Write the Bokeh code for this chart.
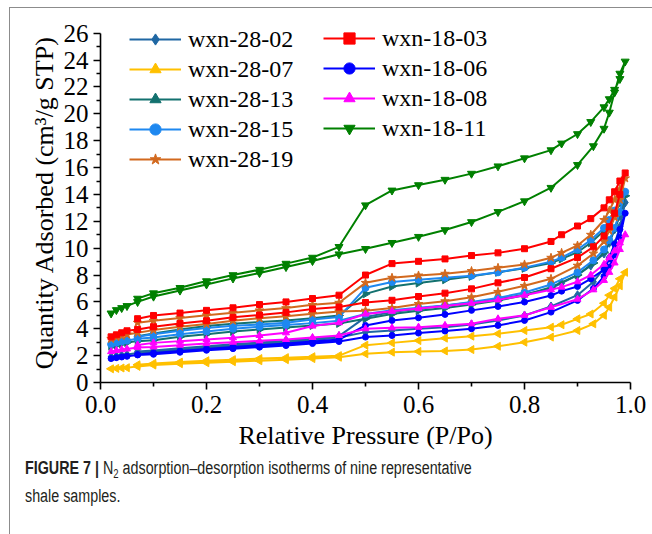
import math
from bokeh.plotting import figure
from bokeh.layouts import column
from bokeh.models import Range1d, FixedTicker, PrintfTickFormatter, Legend, LegendItem, Div
from bokeh.embed import file_html
from bokeh.resources import INLINE

# ---------------- data ----------------
p_ads = [0.02, 0.03, 0.04, 0.05, 0.07, 0.10, 0.15, 0.20, 0.25, 0.30, 0.35, 0.40, 0.45, 0.50,
         0.55, 0.60, 0.65, 0.70, 0.75, 0.80, 0.85, 0.90, 0.93, 0.95, 0.96, 0.97, 0.98, 0.99]
p_des = [0.98, 0.97, 0.96, 0.95, 0.925, 0.90, 0.87, 0.85, 0.80, 0.75, 0.70, 0.65, 0.60, 0.55,
         0.50, 0.45, 0.40, 0.35, 0.30, 0.25, 0.20, 0.15, 0.10, 0.07]

names = ["wxn-28-02", "wxn-28-07", "wxn-28-13", "wxn-28-15", "wxn-28-19",
         "wxn-18-03", "wxn-18-06", "wxn-18-08", "wxn-18-11"]

ads_28_02 = [1.90, 1.97, 2.02, 2.08, 2.20, 2.25, 2.40, 2.55, 2.70, 2.85, 2.98, 3.15, 3.35, 3.75,
             3.87, 4.00, 4.12, 4.32, 4.62, 4.99, 5.66, 6.50, 7.50, 8.50, 9.30, 10.30, 11.60, 13.40]
des_28_02 = [12.4, 11.4, 10.4, 9.6, 8.7, 8.0, 7.4, 7.0, 6.55, 6.2, 5.95, 5.74, 5.49, 5.24,
             4.87, 3.45, 3.25, 3.10, 2.98, 2.85, 2.70, 2.55, 2.38, 2.30]

ads_28_07 = [1.02, 1.05, 1.08, 1.10, 1.20, 1.30, 1.40, 1.47, 1.55, 1.62, 1.70, 1.78, 1.88, 2.14,
             2.26, 2.31, 2.35, 2.45, 2.70, 3.00, 3.38, 3.87, 4.37, 5.00, 5.60, 6.36, 7.20, 8.20]
des_28_07 = [7.72, 7.00, 6.50, 5.90, 5.10, 4.74, 4.30, 4.12, 3.87, 3.63, 3.45, 3.30, 3.12, 2.95,
             2.78, 2.00, 1.92, 1.85, 1.78, 1.70, 1.62, 1.52, 1.42, 1.32]

ads_28_13 = [2.70, 2.80, 2.90, 2.98, 3.08, 3.15, 3.40, 3.60, 3.80, 3.95, 4.10, 4.25, 4.40, 4.75,
             5.10, 5.35, 5.55, 5.80, 6.10, 6.50, 7.10, 8.00, 8.90, 9.70, 10.50, 11.40, 12.60, 13.90]
des_28_13 = [13.3, 12.6, 12.0, 11.3, 10.4, 9.7, 9.2, 8.9, 8.5, 8.2, 7.9, 7.65, 7.40, 7.15,
             6.60, 4.99, 4.79, 4.62, 4.50, 4.37, 4.20, 3.95, 3.65, 3.45]

ads_28_15 = [2.85, 2.95, 3.05, 3.12, 3.25, 3.35, 3.60, 3.80, 4.00, 4.15, 4.28, 4.42, 4.60, 5.10,
             5.37, 5.56, 5.74, 6.00, 6.30, 6.70, 7.30, 8.20, 9.10, 9.90, 10.60, 11.50, 12.70, 14.20]
des_28_15 = [13.5, 12.8, 12.1, 11.5, 10.6, 9.9, 9.3, 9.0, 8.55, 8.20, 7.95, 7.80, 7.65, 7.48,
             7.05, 4.87, 4.69, 4.45, 4.32, 4.22, 4.05, 3.85, 3.60, 3.40]

ads_28_19 = [3.25, 3.38, 3.48, 3.58, 3.70, 3.90, 4.15, 4.35, 4.60, 4.78, 4.94, 5.12, 5.29, 5.35,
             5.55, 5.85, 6.05, 6.35, 6.75, 7.20, 7.72, 8.70, 9.60, 10.50, 11.30, 12.30, 13.60, 15.20]
des_28_19 = [14.4, 13.6, 12.8, 12.1, 11.0, 10.2, 9.65, 9.29, 8.79, 8.54, 8.30, 8.10, 7.97, 7.80,
             7.42, 5.94, 5.78, 5.54, 5.37, 5.19, 5.00, 4.80, 4.60, 4.45]

ads_18_03 = [3.40, 3.55, 3.70, 3.85, 3.95, 4.15, 4.40, 4.60, 4.85, 5.02, 5.22, 5.48, 5.62, 5.95,
             6.12, 6.40, 6.65, 6.97, 7.42, 7.82, 8.47, 9.30, 10.10, 10.90, 11.60, 12.60, 14.00, 15.60]
des_18_03 = [15.0, 14.2, 13.6, 13.0, 12.2, 11.65, 11.0, 10.5, 9.96, 9.65, 9.45, 9.20, 9.02, 8.85,
             8.00, 6.50, 6.25, 6.00, 5.80, 5.56, 5.37, 5.17, 4.99, 4.75]

ads_18_06 = [1.78, 1.85, 1.90, 1.95, 2.05, 2.10, 2.25, 2.40, 2.52, 2.63, 2.75, 2.90, 3.05, 3.38,
             3.50, 3.68, 3.83, 4.00, 4.25, 4.62, 5.24, 6.11, 7.00, 7.90, 8.60, 9.50, 10.80, 12.60]
des_18_06 = [11.4, 10.3, 9.2, 8.4, 7.72, 7.15, 6.80, 6.48, 5.99, 5.66, 5.37, 5.07, 4.82, 4.62,
             4.25, 3.20, 3.05, 2.90, 2.78, 2.65, 2.50, 2.35, 2.20, 2.08]

ads_18_08 = [2.30, 2.38, 2.45, 2.50, 2.60, 2.65, 2.78, 2.90, 3.00, 3.10, 3.20, 3.35, 3.50, 4.00,
             4.07, 4.12, 4.25, 4.37, 4.74, 5.00, 5.60, 6.20, 6.90, 7.60, 8.20, 8.90, 9.90, 11.00]
des_18_08 = [10.4, 9.8, 9.3, 8.8, 8.0, 7.5, 7.1, 6.9, 6.5, 6.15, 5.90, 5.70, 5.50, 5.30,
             5.10, 4.45, 4.20, 3.70, 3.50, 3.33, 3.20, 3.08, 2.95, 2.80]

ads_18_11 = [5.15, 5.40, 5.55, 5.70, 6.00, 6.40, 6.85, 7.30, 7.75, 8.15, 8.60, 9.05, 9.55, 9.95,
             10.40, 10.85, 11.35, 11.95, 12.70, 13.50, 14.50, 16.20, 17.60, 18.90, 20.10, 21.60, 23.00, 23.90]
des_18_11 = [22.6, 21.8, 21.1, 20.5, 19.4, 18.5, 17.8, 17.3, 16.7, 16.1, 15.55, 15.1, 14.7, 14.3,
             13.2, 10.1, 9.3, 8.85, 8.4, 8.0, 7.55, 7.05, 6.65, 6.25]

x_ticks = [0.0, 0.2, 0.4, 0.6, 0.8, 1.0]
x_minor = [0.1, 0.3, 0.5, 0.7, 0.9]
y_ticks = [0, 2, 4, 6, 8, 10, 12, 14, 16, 18, 20, 22, 24, 26]
y_minor = [1, 3, 5, 7, 9, 11, 13, 15, 17, 19, 21, 23, 25]

x_title = "Relative Pressure (P/Po)"
y_title = "Quantity Adsorbed (cm³/g STP)"
caption_html = (
    "<div style=\"transform: scaleX(0.795); transform-origin: 0 0; white-space: nowrap;"
    " position: relative; top: -4px;\">"
    "<b>FIGURE 7 |</b> N<span style=\"font-size:12px; position:relative; top:4px;\">2</span> "
    "adsorption–desorption isotherms of nine representative<br>shale samples.</div>"
)

series_values = [
    (ads_28_02, des_28_02), (ads_28_07, des_28_07), (ads_28_13, des_28_13),
    (ads_28_15, des_28_15), (ads_28_19, des_28_19), (ads_18_03, des_18_03),
    (ads_18_06, des_18_06), (ads_18_08, des_18_08), (ads_18_11, des_18_11),
]

# ---------------- styles ----------------
styles = [
    dict(color="#1f67a3", marker="diamond", size=9, angle=0),
    dict(color="#ffc000", marker="triangle", size=8, angle=90),
    dict(color="#13716f", marker="triangle", size=8, angle=-90),
    dict(color="#1e88f0", marker="circle", size=7, angle=0),
    dict(color="#d2691e", marker="star", size=9, angle=0),
    dict(color="#ff0000", marker="square", size=6, angle=0),
    dict(color="#0000ff", marker="circle", size=6, angle=0),
    dict(color="#ff00ff", marker="triangle", size=7, angle=0),
    dict(color="#008000", marker="inverted_triangle", size=8, angle=0),
]

SERIF = "Liberation Serif"

p = figure(width=642, height=446, output_backend="svg", toolbar_location=None,
           x_range=Range1d(0, 1), y_range=Range1d(0, 26.8),
           min_border_left=90, min_border_right=22, min_border_top=14, min_border_bottom=72)
p.xgrid.visible = False
p.ygrid.visible = False
p.outline_line_color = None
p.background_fill_color = "white"
p.border_fill_color = "white"

p.xaxis.ticker = FixedTicker(ticks=x_ticks, minor_ticks=x_minor)
p.yaxis.ticker = FixedTicker(ticks=y_ticks, minor_ticks=y_minor)
p.xaxis.formatter = PrintfTickFormatter(format="%.1f")
p.yaxis.formatter = PrintfTickFormatter(format="%d")
p.yaxis.bounds = (0, 26)
for ax in (p.xaxis[0], p.yaxis[0]):
    ax.axis_line_color = "black"
    ax.axis_line_width = 1.6
    ax.major_tick_line_color = "black"
    ax.minor_tick_line_color = "black"
    ax.major_tick_line_width = 1.6
    ax.minor_tick_line_width = 1.6
    ax.major_tick_out = 7
    ax.major_tick_in = 0
    ax.minor_tick_out = 4
    ax.minor_tick_in = 0
    ax.major_label_text_font = SERIF
    ax.major_label_text_font_size = "25px"
    ax.major_label_text_color = "black"
    ax.axis_label_text_font = SERIF
    ax.axis_label_text_font_size = "26px"
    ax.axis_label_text_font_style = "normal"
    ax.axis_label_text_color = "black"
p.xaxis.major_label_standoff = 6
p.yaxis.major_label_standoff = 5
p.xaxis.axis_label = x_title
p.yaxis.axis_label = y_title
p.xaxis.axis_label_standoff = 5
p.yaxis.axis_label_standoff = 2

items = []
for name, (ads, des), st in zip(names, series_values, styles):
    xs = p_ads + p_des
    ys = ads + des
    lr = p.line(xs, ys, line_color=st["color"], line_width=2.0)
    sr = p.scatter(xs, ys, marker=st["marker"], size=st["size"],
                   angle=st["angle"], angle_units="deg",
                   fill_color=st["color"], line_color=st["color"])
    items.append(LegendItem(label=name, renderers=[lr, sr]))


def make_legend(its, loc):
    return Legend(items=its, location=loc, orientation="vertical",
                  glyph_width=52, glyph_height=28, label_height=28, spacing=2,
                  padding=0, margin=0, label_standoff=7,
                  label_text_font=SERIF, label_text_font_size="24px",
                  label_text_color="black",
                  background_fill_alpha=0, border_line_color=None)


p.add_layout(make_legend(items[:5], (29, 209)))
p.add_layout(make_legend(items[5:], (223, 240)))

cap = Div(text=caption_html, width=642, height=80,
          styles={"font-family": "'Liberation Sans', Arial, sans-serif",
                  "font-size": "18px", "line-height": "26px", "color": "#231f20",
                  "padding-left": "10px", "box-sizing": "border-box"})

layout = column(p, cap, spacing=0,
                styles={"margin-left": "9px", "margin-top": "7px",
                        "border-left": "1px solid #8c8c8c", "border-top": "1px solid #8c8c8c"})

open("out.html", "w").write(file_html(layout, INLINE))
